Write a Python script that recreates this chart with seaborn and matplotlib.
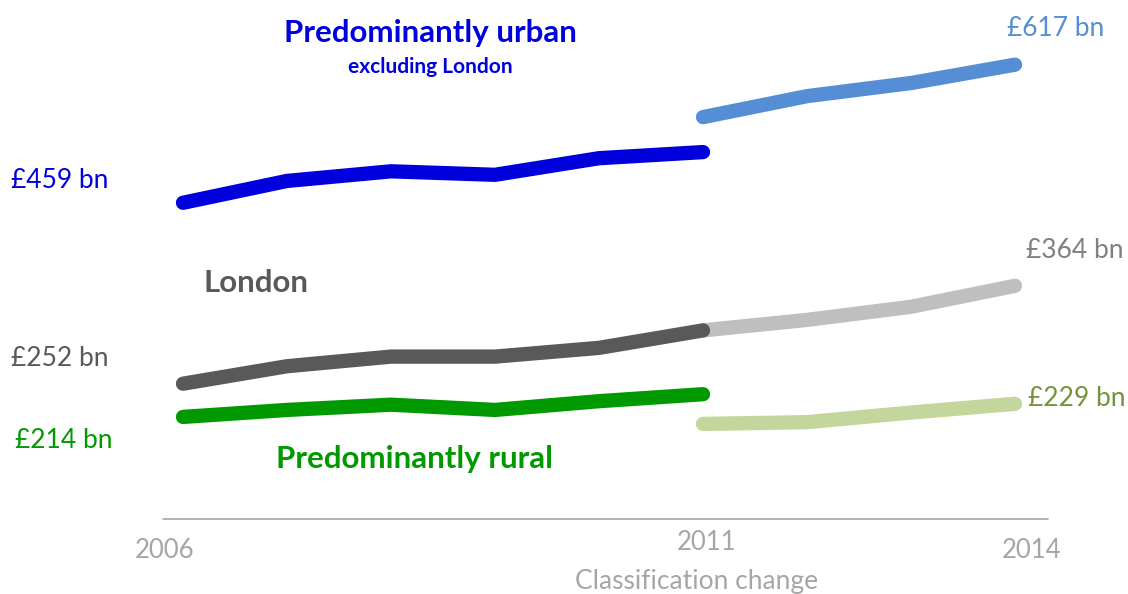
import seaborn as sns
import pandas as pd
import matplotlib.pyplot as plt

# Datos (GVA en miles de millones de libras)
years_old = [2006, 2007, 2008, 2009, 2010, 2011]
years_new = [2011, 2012, 2013, 2014]

urban_old = [459, 484, 495, 491, 510, 517]
urban_new = [557, 581, 596, 617]
london_old = [252, 272, 283, 283, 293, 313]
london_new = [313, 325, 340, 364]
rural_old = [214, 222, 228, 222, 232, 240]
rural_new = [206, 208, 219, 229]

series = [
    ('urban_old', years_old, urban_old, '#0000DD'),
    ('urban_new', years_new, urban_new, '#558ED5'),
    ('london_new', years_new, london_new, '#BFBFBF'),
    ('london_old', years_old, london_old, '#595959'),
    ('rural_old', years_old, rural_old, '#009900'),
    ('rural_new', years_new, rural_new, '#C3D69B'),
]

rows = []
for name, xs, ys, _ in series:
    for x, y in zip(xs, ys):
        rows.append({'serie': name, 'year': x, 'value': y})
df = pd.DataFrame(rows)

sns.set_style('white')
plt.rcParams['font.family'] = ['Lato', 'DejaVu Sans']

fig = plt.figure(figsize=(11.28, 5.94), dpi=100)
ax = fig.add_axes([0, 0, 1, 1])

for name, _, _, color in series:
    sns.lineplot(data=df[df['serie'] == name], x='year', y='value', ax=ax,
                 color=color, linewidth=10.3, solid_capstyle='round', legend=False)

x0 = 2006 - 183 / 104
ax.set_xlim(x0, x0 + 1128 / 104)
ax.set_ylim(11.4, 691)
ax.axis('off')

# Línea del eje
ax.plot([x0 + 163 / 104, x0 + 1048 / 104], [97, 97], color='#A6A6A6', linewidth=1.2)


def ftext(px, py, s, **kw):
    fig.text(px / 1128, 1 - py / 594, s, **kw)


# Títulos de las series
ftext(430, 33, 'Predominantly urban', color='#0000DD', fontsize=22.5,
      fontweight='bold', ha='center', va='center')
ftext(430, 67, 'excluding London', color='#0000DD', fontsize=15,
      fontweight='bold', ha='center', va='center')
ftext(256, 283, 'London', color='#595959', fontsize=22.5,
      fontweight='bold', ha='center', va='center')
ftext(415, 459, 'Predominantly rural', color='#009900', fontsize=22.5,
      fontweight='bold', ha='center', va='center')

# Etiquetas de valores
ftext(60, 181, '£459 bn', color='#0000DD', fontsize=19, ha='center', va='center')
ftext(1056, 28, '£617 bn', color='#558ED5', fontsize=19, ha='center', va='center')
ftext(1075, 250, '£364 bn', color='#808080', fontsize=19, ha='center', va='center')
ftext(60, 358, '£252 bn', color='#595959', fontsize=19, ha='center', va='center')
ftext(1077, 399, '£229 bn', color='#77933C', fontsize=19, ha='center', va='center')
ftext(64, 441, '£214 bn', color='#009900', fontsize=19, ha='center', va='center')

# Etiquetas del eje X
ftext(165, 551, '2006', color='#A6A6A6', fontsize=18.5, ha='center', va='center')
ftext(707, 542, '2011', color='#A6A6A6', fontsize=18.5, ha='center', va='center')
ftext(1032, 551, '2014', color='#A6A6A6', fontsize=18.5, ha='center', va='center')
ftext(697, 581, 'Classification change', color='#A6A6A6', fontsize=19,
      ha='center', va='center')

plt.savefig('out.png', dpi=100)
plt.close()
